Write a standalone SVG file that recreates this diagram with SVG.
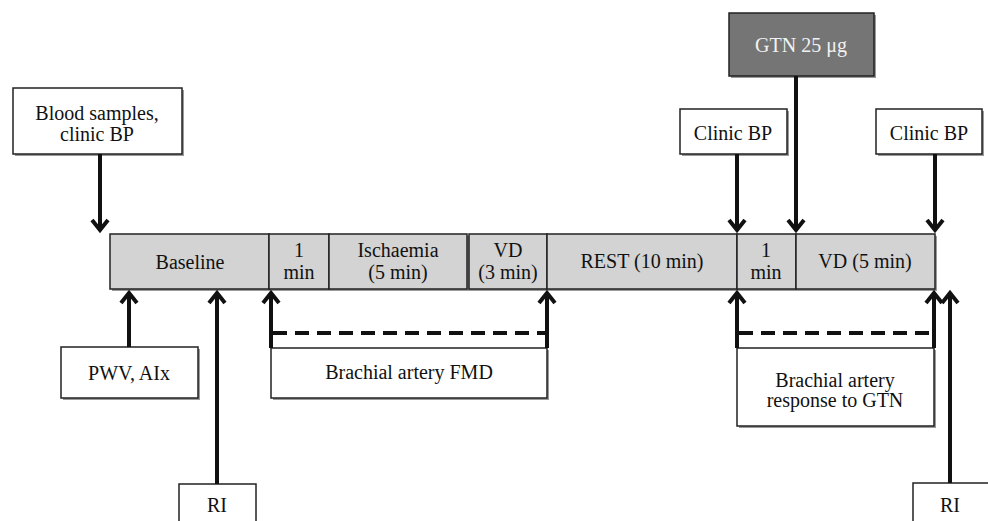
<svg xmlns="http://www.w3.org/2000/svg" width="988" height="521" viewBox="0 0 988 521">
<style>
text{font-family:"Liberation Serif","Times New Roman",serif;font-size:20px;fill:#111;text-anchor:middle}
.box{fill:#fff;stroke:#222;stroke-width:1.5}
.sh{fill:#9a9a9a}
.seg{fill:#d2d3d2;stroke:#222;stroke-width:1.5}
.dark{fill:#757575;stroke:#222;stroke-width:1.5}
.arr{stroke:#111;stroke-width:4;fill:none;marker-end:url(#ah)}
.dash{stroke:#111;stroke-width:4;fill:none;stroke-dasharray:14 8}
</style>
<defs>
<marker id="ah" markerUnits="userSpaceOnUse" markerWidth="30" markerHeight="30" viewBox="-15 -15 30 30" refX="0" refY="0" orient="auto" overflow="visible">
<path d="M-10,-8 L0,0 L-10,8" fill="none" stroke="#111" stroke-width="4" stroke-linejoin="miter"/>
</marker>
</defs>
<rect width="988" height="521" fill="#fff"/>

<g id="timeline">
<rect class="sh" x="112" y="236" width="825" height="55"/>
<g id="seg-baseline"><rect class="seg" x="110" y="234" width="159" height="55"/><text x="190" y="269">Baseline</text></g>
<g id="seg-1min-a"><rect class="seg" x="269" y="234" width="60" height="55"/><text x="299" y="257">1</text><text x="299" y="279">min</text></g>
<g id="seg-ischaemia"><rect class="seg" x="329" y="234" width="138" height="55"/><text x="398" y="257">Ischaemia</text><text x="398" y="279">(5 min)</text></g>
<g id="seg-vd3"><rect class="seg" x="469" y="234" width="78" height="55"/><text x="508" y="257">VD</text><text x="508" y="279">(3 min)</text></g>
<g id="seg-rest"><rect class="seg" x="547" y="234" width="190" height="55"/><text x="642" y="268">REST (10 min)</text></g>
<g id="seg-1min-b"><rect class="seg" x="737" y="234" width="59" height="55"/><text x="766" y="257">1</text><text x="766" y="279">min</text></g>
<g id="seg-vd5"><rect class="seg" x="796" y="234" width="139" height="55"/><text x="865" y="268">VD (5 min)</text></g>
</g>

<g id="blood">
<rect class="sh" x="15" y="90" width="169" height="66"/>
<rect class="box" x="13" y="88" width="169" height="66"/>
<text x="97" y="120">Blood samples,</text><text x="97" y="141">clinic BP</text>
</g>

<g id="gtn">
<rect class="sh" x="731" y="15" width="145" height="63"/>
<rect class="dark" x="729" y="13" width="145" height="63"/>
<text x="801" y="52" style="fill:#f2f2f2">GTN 25 μg</text>
</g>

<g id="clinic1">
<rect class="sh" x="682" y="111" width="107" height="45"/>
<rect class="box" x="680" y="109" width="107" height="45"/>
<text x="733" y="140">Clinic BP</text>
</g>

<g id="clinic2">
<rect class="sh" x="878" y="111" width="106" height="45"/>
<rect class="box" x="876" y="109" width="106" height="45"/>
<text x="929" y="140">Clinic BP</text>
</g>

<g id="pwv">
<rect class="sh" x="63" y="349" width="137" height="51"/>
<rect class="box" x="61" y="347" width="137" height="51"/>
<text x="129" y="380">PWV, AIx</text>
</g>

<g id="ri-left">
<rect class="box" x="179" y="484" width="77" height="45"/>
<text x="217" y="512">RI</text>
</g>

<g id="ri-right">
<rect class="box" x="913" y="483" width="76" height="45"/>
<text x="950" y="512">RI</text>
</g>

<g id="fmd">
<rect class="sh" x="273" y="350" width="276" height="50"/>
<rect class="box" x="271" y="348" width="276" height="50"/>
<text x="409" y="379">Brachial artery FMD</text>
</g>

<g id="gtn-response">
<rect class="sh" x="739" y="350" width="197" height="78"/>
<rect class="box" x="737" y="348" width="197" height="78"/>
<text x="835" y="387">Brachial artery</text><text x="835" y="407">response to GTN</text>
</g>

<g id="connectors">
<line class="arr" x1="100" y1="154" x2="100" y2="230"/>
<line class="arr" x1="737" y1="154" x2="737" y2="230"/>
<line class="arr" x1="796" y1="76" x2="796" y2="230"/>
<line class="arr" x1="935" y1="154" x2="935" y2="230"/>
<line class="arr" x1="129" y1="347" x2="129" y2="293"/>
<line class="arr" x1="217" y1="484" x2="217" y2="293"/>
<line class="arr" x1="271" y1="348" x2="271" y2="293"/>
<line class="arr" x1="547" y1="348" x2="547" y2="293"/>
<line class="arr" x1="737" y1="348" x2="737" y2="293"/>
<line class="arr" x1="934" y1="348" x2="934" y2="293"/>
<line class="arr" x1="950" y1="483" x2="950" y2="293"/>
<line class="dash" x1="273" y1="333" x2="547" y2="333"/>
<line class="dash" x1="739" y1="333" x2="934" y2="333"/>
</g>
</svg>
